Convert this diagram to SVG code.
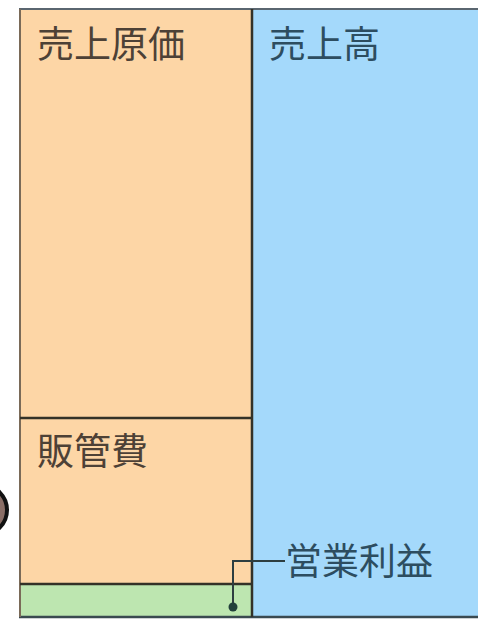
<svg xmlns="http://www.w3.org/2000/svg" width="478" height="619" viewBox="0 0 478 619">
<style>
.lbl{font-family:"Noto Sans CJK JP","Noto Sans CJK SC",sans-serif;font-size:37px;}
.brown{fill:#4d4136;}
.teal{fill:#2d4d60;}
.edge{stroke:#333228;stroke-width:2.5;fill:none;}
</style>
<rect x="0" y="0" width="478" height="619" fill="#ffffff"/>
<circle cx="-18" cy="510" r="25" fill="#8a6e66" stroke="#111" stroke-width="4"/>
<g id="sales">
<rect x="252" y="9" width="230" height="608" fill="#a4d9fb"/>
<text class="lbl teal" x="269" y="58">売上高</text>
</g>
<g id="cogs">
<rect x="20" y="9" width="232" height="409" fill="#fdd6a6"/>
<text class="lbl brown" x="37" y="58">売上原価</text>
</g>
<g id="sga">
<rect x="20" y="418" width="232" height="166" fill="#fdd6a6"/>
<text class="lbl brown" x="37" y="465">販管費</text>
</g>
<g id="profit">
<rect x="20" y="584" width="232" height="33" fill="#bde6b0"/>
<text class="lbl teal" x="285" y="575">営業利益</text>
</g>
<g id="borders">
<line x1="19" y1="9" x2="478" y2="9" stroke="#5a6670" stroke-width="2"/>
<line x1="19" y1="617" x2="478" y2="617" stroke="#3a4a50" stroke-width="2.5"/>
<line x1="20" y1="9" x2="20" y2="617" stroke="#7a6a58" stroke-width="2"/>
<line x1="252" y1="9" x2="252" y2="617" class="edge" stroke-width="3"/>
<line x1="20" y1="418" x2="252" y2="418" class="edge"/>
<line x1="20" y1="584" x2="252" y2="584" class="edge"/>
</g>
<g id="connectors">
<polyline points="233,607 233,561 285,561" fill="none" stroke="#2d3e40" stroke-width="2"/>
<circle cx="233" cy="607" r="4.5" fill="#21403a"/>
</g>
</svg>
